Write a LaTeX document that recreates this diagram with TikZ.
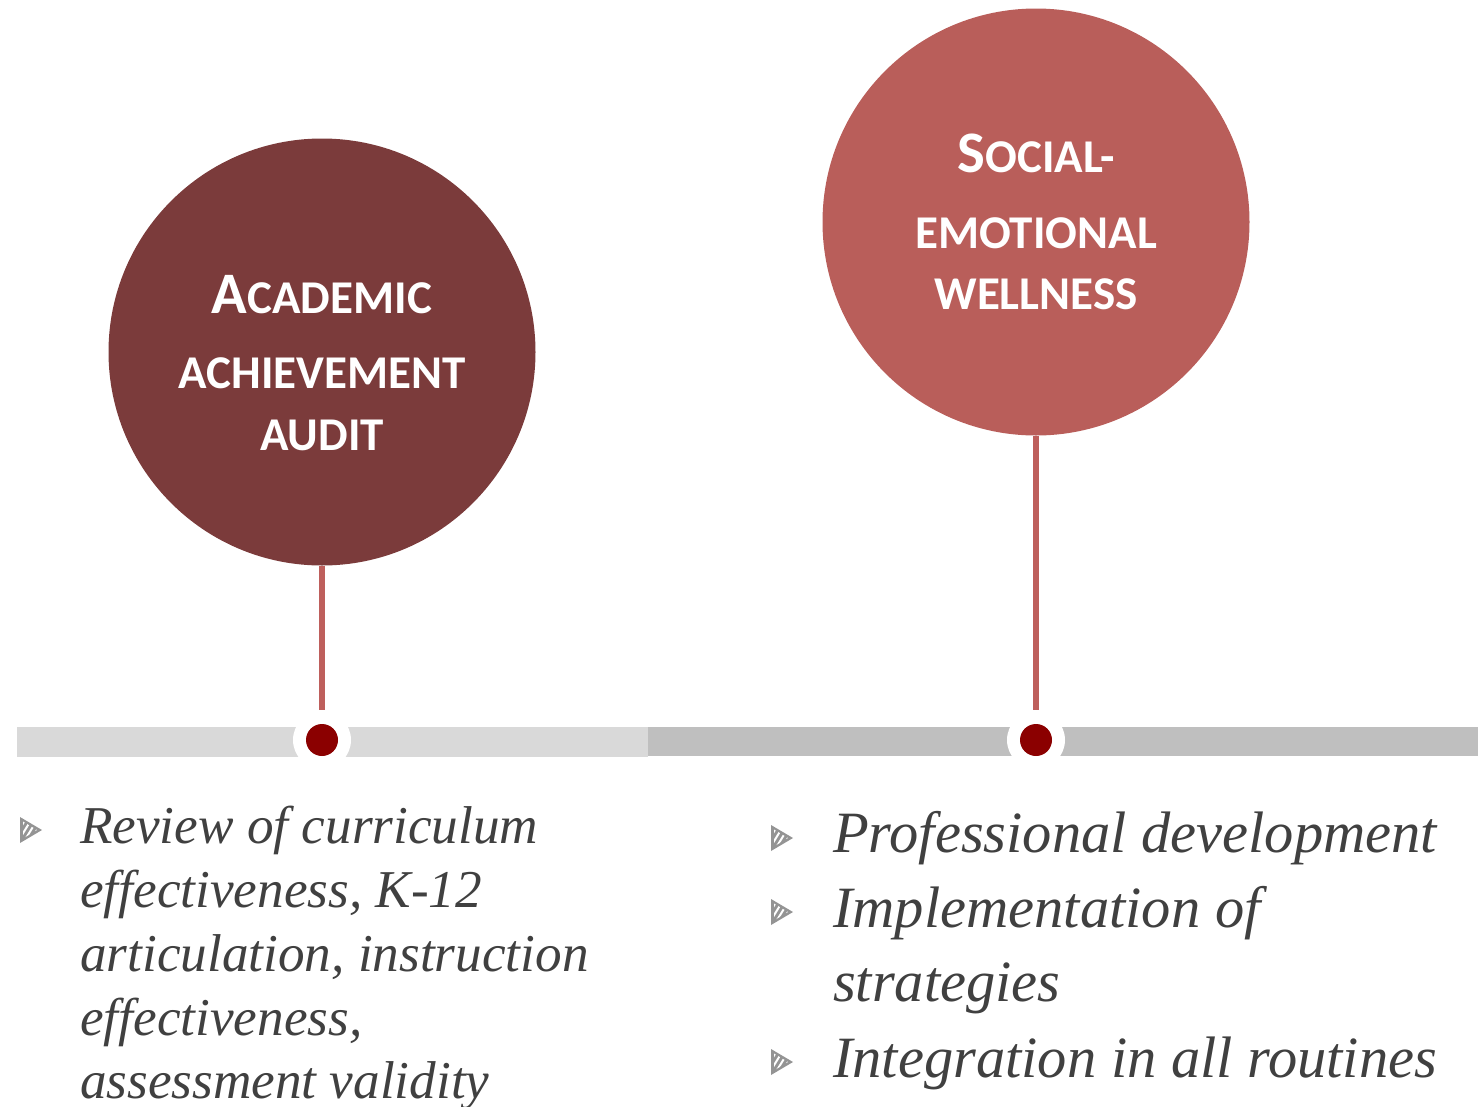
\documentclass[tikz,border=0pt]{standalone}
\usepackage{fontspec}
\setmainfont{Liberation Serif}
\newfontfamily\carlito{Carlito}
\definecolor{darkmaroon}{HTML}{7B3B3B}
\definecolor{rosered}{HTML}{B95E5A}
\definecolor{stemcol}{HTML}{BE5F5C}
\definecolor{barlight}{HTML}{D9D9D9}
\definecolor{bardark}{HTML}{BFBFBF}
\definecolor{dotred}{HTML}{8B0000}
\definecolor{txtgray}{HTML}{404040}
\definecolor{bulgray}{HTML}{949494}
\newcommand\bigsc[2]{{\fontsize{58.8}{58.8}\selectfont #1}{\fontsize{47}{47}\selectfont #2}}
\begin{document}
\begin{tikzpicture}[x=1pt,y=-1pt,
  bigcircle/.style={circle, inner sep=0pt, minimum size=427pt},
  titletext/.style={anchor=base, inner sep=0pt, text=white, font=\carlito\bfseries\fontsize{47}{47}\selectfont},
  barbox/.style={anchor=north west, inner sep=0pt, minimum height=29.5pt},
  ringnode/.style={circle, fill=white, inner sep=0pt, minimum size=58pt},
  dotnode/.style={circle, fill=dotred, inner sep=0pt, minimum size=32pt},
  stemline/.style={draw=stemcol, line width=6pt},
  bodyl/.style={anchor=base west, inner sep=0pt, text=txtgray, font=\fontsize{53.2}{64}\selectfont\itshape},
  bodyr/.style={anchor=base west, inner sep=0pt, text=txtgray, font=\fontsize{58.5}{75}\selectfont\itshape},
  bullet/.pic={
    \fill[bulgray] (-11,-13) -- (11,0) -- (-11,13) -- cycle;
    \begin{scope}
      \clip (-8,-8.5) -- (6,0) -- (-8,8.5) -- cycle;
      \foreach \k in {-26,-20,...,6} \draw[white, line width=2pt] (\k,13) -- (\k+16,-13);
    \end{scope}
  }]
\useasboundingbox (0,0) rectangle (1478,1106);
% bars
\node[barbox, fill=barlight, minimum width=631pt] (bar1) at (17,727) {};
\node[barbox, fill=bardark, minimum width=830pt] (bar2) at (648,726.5) {};
% circles
\node[bigcircle, fill=darkmaroon] (c1) at (322,352) {};
\node[bigcircle, fill=rosered] (c2) at (1036,222) {};
% titles
\node[titletext] (t1a) at (322,313) {\bigsc{A}{CADEMIC}};
\node[titletext] (t1b) at (322,388) {ACHIEVEMENT};
\node[titletext] (t1c) at (322,450) {AUDIT};
\node[titletext] (t2a) at (1036,172) {\bigsc{S}{OCIAL-}};
\node[titletext] (t2b) at (1036,248) {EMOTIONAL};
\node[titletext] (t2c) at (1036,309) {WELLNESS};
% stems and dots
\coordinate (s1) at (322,710);
\coordinate (s2) at (1036,710);
\draw[stemline] (c1.south) -- (s1);
\draw[stemline] (c2.south) -- (s2);
\node[ringnode] (r1) at (322,740) {};
\node[ringnode] (r2) at (1036,740) {};
\node[dotnode] (d1) at (322,740) {};
\node[dotnode] (d2) at (1036,740) {};
% bullets
\pic at (31,830) {bullet};
\pic at (782,838) {bullet};
\pic at (782,912) {bullet};
\pic at (782,1062) {bullet};
% left text
\node[bodyl] (l1) at (80,843) {Review of curriculum};
\node[bodyl] (l2) at (80,907) {effectiveness, K-12};
\node[bodyl] (l3) at (80,971) {articulation, instruction};
\node[bodyl] (l4) at (80,1035) {effectiveness,};
\node[bodyl] (l5) at (80,1098) {assessment validity};
% right text
\node[bodyr] (r1t) at (833,852) {Professional development};
\node[bodyr] (r2t) at (833,927) {Implementation of};
\node[bodyr] (r3t) at (833,1001) {strategies};
\node[bodyr] (r4t) at (833,1077) {Integration in all routines};
\end{tikzpicture}
\end{document}
